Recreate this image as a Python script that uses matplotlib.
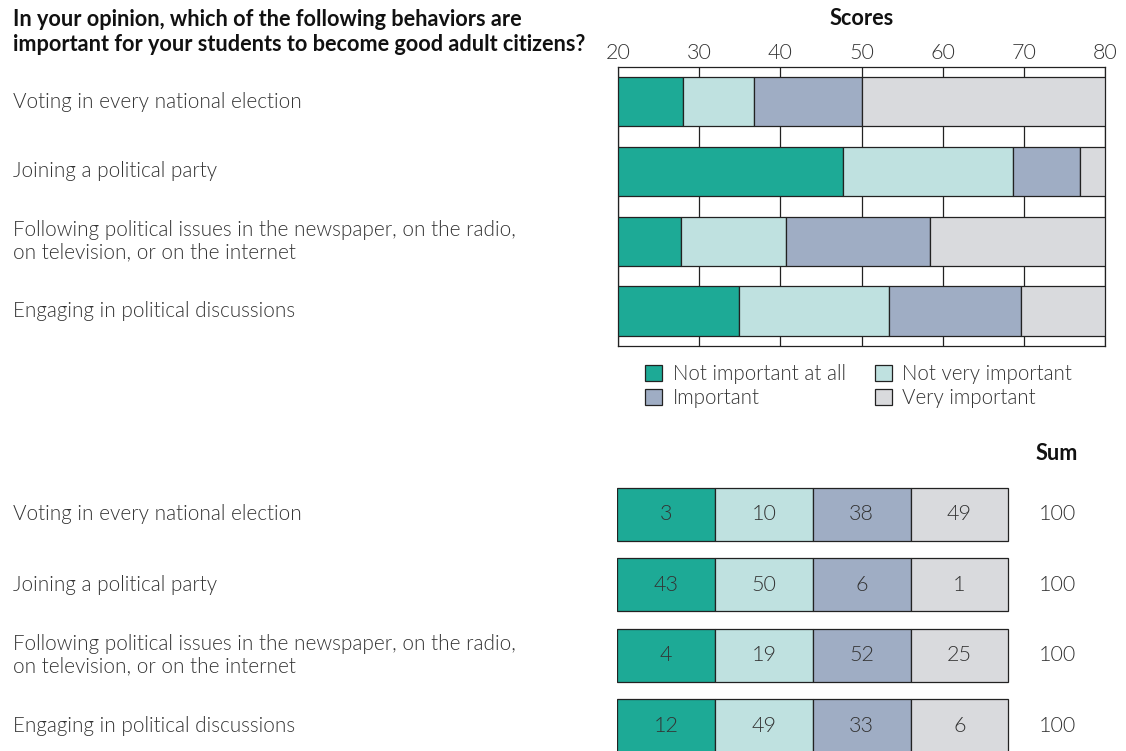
import numpy as np
import matplotlib
matplotlib.use('Agg')
from matplotlib import pyplot as plt, transforms
from matplotlib.patches import Patch

plt.rcParams['font.family'] = ['Lato', 'DejaVu Sans']

# Data
behaviors = ['Voting in every national election',
             'Joining a political party',
             'Following political issues in the newspaper, on the radio,\non television, or on the internet',
             'Engaging in political discussions']
levels = ['Not important at all', 'Not very important', 'Important', 'Very important']
colors = ['#1DAA96', '#BFE1E0', '#9FADC4', '#D9DADD']

# Score segment widths (scale starts at 20)
score_start = 20
score_widths = np.array([
    [8.0, 8.75, 13.25, 30.0],
    [27.75, 20.95, 8.2, 3.1],
    [7.8, 12.9, 17.8, 21.5],
    [14.9, 18.5, 16.3, 10.3],
])

# Percentages
percents = np.array([
    [3, 10, 38, 49],
    [43, 50, 6, 1],
    [4, 19, 52, 25],
    [12, 49, 33, 6],
])
sums = percents.sum(axis=1)

W, H = 1126, 751
fig = plt.figure(figsize=(W / 100, H / 100), dpi=100)

def px_axes(x0, y0, x1, y1):
    return fig.add_axes([x0 / W, 1 - y1 / H, (x1 - x0) / W, (y1 - y0) / H])

text_col = '#333333'
edge_col = '#222222'
fs = 14.9
wt = 300
bfs = 15.6

# ---- Top chart: scores ----
ax = px_axes(618, 66.7, 1105, 346)
y = np.arange(len(behaviors))
lefts = score_start + np.hstack([np.zeros((4, 1)), np.cumsum(score_widths, axis=1)[:, :-1]])
for j in range(4):
    ax.barh(y, score_widths[:, j], left=lefts[:, j], height=0.707, color=colors[j],
            edgecolor=edge_col, linewidth=0.9, zorder=3)
ax.set_xlim(20, 80)
ax.set_ylim(3.5, -0.5)
ax.set_xticks(np.arange(20, 81, 10))
ax.xaxis.tick_top()
ax.tick_params(axis='x', length=0, pad=3, labelsize=15.5, labelcolor=text_col)
for lab in ax.get_xticklabels():
    lab.set_fontweight(wt)
ax.set_yticks([])
ax.grid(axis='x', color=edge_col, linewidth=0.9, zorder=0)
for s in ax.spines.values():
    s.set_color(edge_col)
    s.set_linewidth(0.9)
ax.set_title('Scores', fontsize=bfs, fontweight='bold', pad=30, color='#111111')

fig.text(13 / W, 1 - 32 / H, 'In your opinion, which of the following behaviors are\n'
         'important for your students to become good adult citizens?',
         fontsize=bfs, fontweight='bold', va='center', ha='left', color='#111111',
         linespacing=1.2)

trans = transforms.blended_transform_factory(fig.transFigure, ax.transData)
for i, name in enumerate(behaviors):
    ax.text(13 / W, i, name, transform=trans, fontsize=fs, fontweight=wt,
            color=text_col, va='center', ha='left', linespacing=1.15)

# Legend
order = [0, 2, 1, 3]
handles = [Patch(facecolor=colors[k], edgecolor=edge_col, linewidth=0.9) for k in order]
fig.legend(handles, [levels[k] for k in order], ncol=2, frameon=False,
           loc='upper left', bbox_to_anchor=(645 / W, 1 - 364 / H),
           borderpad=0, borderaxespad=0, handlelength=0.85, handleheight=0.85,
           handletextpad=0.5, columnspacing=1.4, labelspacing=0.2,
           prop={'size': 14.8, 'weight': wt}, labelcolor=text_col)

# ---- Bottom table: percentages ----
bx = px_axes(617.3, 443, 1106, 751)
for j in range(4):
    bx.barh(y, 1, left=j, height=0.75, color=colors[j], edgecolor=edge_col,
            linewidth=0.9)
    for i in range(4):
        bx.text(j + 0.5, i, str(percents[i, j]), ha='center', va='center',
                fontsize=15.5, fontweight=wt, color=text_col)
for i in range(4):
    bx.text(4.5, i, str(sums[i]), ha='center', va='center', fontsize=15.5,
            fontweight=wt, color=text_col)
bx.text(4.5, -0.86, 'Sum', ha='center', va='center', fontsize=bfs,
        fontweight='bold', color='#111111')
bx.set_xlim(0, 5)
bx.set_ylim(3.354, -1.005)
bx.axis('off')

trans_b = transforms.blended_transform_factory(fig.transFigure, bx.transData)
for i, name in enumerate(behaviors):
    bx.text(13 / W, i, name, transform=trans_b, fontsize=fs, fontweight=wt,
            color=text_col, va='center', ha='left', linespacing=1.15)

fig.savefig('out.png', dpi=100)
